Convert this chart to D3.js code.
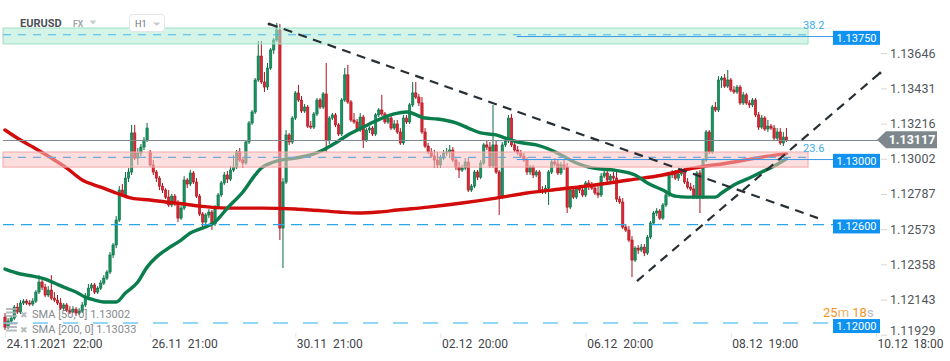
<!DOCTYPE html>
<html><head><meta charset="utf-8">
<script src="https://cdn.jsdelivr.net/npm/d3@7"></script>
<style>
html,body{margin:0;padding:0;background:#fff;}
svg{display:block;font-family:Roboto,"Noto Sans",Arial,sans-serif;}
</style></head><body>
<svg id="chart" width="950" height="361"></svg>
<script>
// ---------------- DATA ----------------
const symbol = "EURUSD";
const market = "FX";
const interval = "H1";
const xTickIdx = [0, 47, 94, 141, 188, 235, 282];
const xTickLabels = ["24.11.2021  22:00","26.11  21:00","30.11  21:00","02.12  20:00","06.12  20:00","08.12  19:00","10.12  18:00"];
const yTicks = [1.13646,1.13431,1.13216,1.13002,1.12787,1.12573,1.12358,1.12143,1.11929];

const opens = [
1.12036,1.11975,1.12012,1.12030,1.12097,1.12067,1.12122,1.12134,1.12122,1.12116,
1.12134,1.12189,1.12250,1.12219,1.12171,1.12201,1.12152,1.12140,1.12122,1.12091,
1.12110,1.12079,1.12067,1.12085,1.12061,1.12073,1.12110,1.12164,1.12213,1.12232,
1.12189,1.12213,1.12244,1.12274,1.12311,1.12415,1.12476,1.12628,1.12811,1.12781,
1.12884,1.12921,1.13159,1.13006,1.13037,1.13073,1.13116,1.13043,1.12964,1.12921,
1.12884,1.12835,1.12811,1.12768,1.12720,1.12774,1.12726,1.12640,1.12701,1.12872,
1.12848,1.12915,1.12860,1.12774,1.12665,1.12616,1.12659,1.12677,1.12604,1.12707,
1.12781,1.12854,1.12903,1.12878,1.12933,1.12951,1.13043,1.12994,1.12976,1.13104,
1.13220,1.13287,1.13482,1.13628,1.13470,1.13439,1.13555,1.13665,1.13726,1.13787,
1.12579,1.12860,1.13147,1.13104,1.13250,1.13403,1.13360,1.13293,1.13317,1.13201,
1.13195,1.13275,1.13360,1.13317,1.13397,1.13116,1.13250,1.13269,1.13208,1.13153,
1.13360,1.13513,1.13348,1.13238,1.13226,1.13177,1.13256,1.13116,1.13177,1.13189,
1.13153,1.13269,1.13299,1.13275,1.13226,1.13250,1.13189,1.13214,1.13165,1.13098,
1.13250,1.13226,1.13330,1.13403,1.13378,1.13342,1.13165,1.13079,1.13043,1.13018,
1.12994,1.12964,1.13006,1.13037,1.13043,1.13055,1.12994,1.12951,1.12933,1.12945,
1.12982,1.12811,1.12835,1.12921,1.12890,1.12976,1.13086,1.13073,1.12957,1.13086,
1.12921,1.12768,1.13086,1.13110,1.13250,1.13086,1.13055,1.13037,1.13018,1.12994,
1.12921,1.12951,1.12903,1.12921,1.12811,1.12799,1.12823,1.12921,1.12982,1.12970,
1.12915,1.12964,1.12951,1.12707,1.12811,1.12768,1.12823,1.12811,1.12781,1.12854,
1.12835,1.12823,1.12793,1.12781,1.12896,1.12915,1.12872,1.12896,1.12884,1.12756,
1.12738,1.12585,1.12567,1.12506,1.12384,1.12457,1.12445,1.12463,1.12427,1.12524,
1.12610,1.12671,1.12683,1.12640,1.12720,1.12781,1.12903,1.12915,1.12884,1.12909,
1.12927,1.12860,1.12829,1.12817,1.12768,1.12915,1.12768,1.12994,1.13165,1.13043,
1.13317,1.13299,1.13482,1.13494,1.13445,1.13482,1.13421,1.13409,1.13439,1.13342,
1.13391,1.13342,1.13330,1.13360,1.13269,1.13195,1.13250,1.13183,1.13201,1.13189,
1.13128,1.13165,1.13098,1.13134];

const highs = [
1.12061,1.12030,1.12042,1.12110,1.12122,1.12140,1.12146,1.12146,1.12140,1.12152,
1.12201,1.12292,1.12262,1.12238,1.12225,1.12292,1.12189,1.12171,1.12152,1.12122,
1.12122,1.12103,1.12103,1.12097,1.12091,1.12128,1.12183,1.12238,1.12244,1.12244,
1.12225,1.12262,1.12292,1.12323,1.12433,1.12488,1.12652,1.12835,1.12848,1.12921,
1.12945,1.13208,1.13208,1.13067,1.13092,1.13134,1.13220,1.13055,1.12994,1.12933,
1.12896,1.12854,1.12823,1.12811,1.12787,1.12787,1.12750,1.12720,1.12896,1.12884,
1.12933,1.12927,1.12884,1.12787,1.12677,1.12671,1.12695,1.12689,1.12720,1.12793,
1.12866,1.12921,1.12927,1.12957,1.13025,1.13055,1.13067,1.13012,1.13116,1.13232,
1.13299,1.13494,1.13720,1.13720,1.13531,1.13586,1.13677,1.13738,1.13830,1.13824,
1.12884,1.13177,1.13159,1.13262,1.13415,1.13452,1.13384,1.13336,1.13330,1.13232,
1.13287,1.13372,1.13372,1.13409,1.13586,1.13262,1.13281,1.13281,1.13220,1.13372,
1.13555,1.13574,1.13360,1.13281,1.13244,1.13281,1.13269,1.13189,1.13201,1.13201,
1.13281,1.13311,1.13391,1.13287,1.13262,1.13262,1.13238,1.13238,1.13189,1.13269,
1.13269,1.13342,1.13470,1.13470,1.13397,1.13378,1.13189,1.13098,1.13067,1.13055,
1.13043,1.13025,1.13055,1.13067,1.13086,1.13073,1.13006,1.12982,1.12964,1.13006,
1.13006,1.12848,1.12933,1.12933,1.12994,1.13098,1.13116,1.13104,1.13330,1.13116,
1.12933,1.13104,1.13128,1.13269,1.13275,1.13110,1.13079,1.13055,1.13037,1.13012,
1.12964,1.12964,1.12933,1.12933,1.12835,1.12842,1.12933,1.12994,1.13006,1.12994,
1.12982,1.12994,1.12976,1.12823,1.12823,1.12835,1.12842,1.12835,1.12866,1.12872,
1.12860,1.12848,1.12835,1.12915,1.12933,1.12927,1.12909,1.12921,1.12933,1.12774,
1.12762,1.12604,1.12591,1.12530,1.12469,1.12476,1.12482,1.12482,1.12537,1.12622,
1.12683,1.12701,1.12695,1.12732,1.12793,1.12915,1.12933,1.12933,1.12921,1.12945,
1.12945,1.12884,1.12854,1.12842,1.12927,1.12933,1.13006,1.13177,1.13177,1.13330,
1.13348,1.13506,1.13506,1.13519,1.13543,1.13494,1.13445,1.13452,1.13452,1.13409,
1.13403,1.13360,1.13372,1.13372,1.13287,1.13269,1.13262,1.13238,1.13214,1.13208,
1.13189,1.13189,1.13165,1.13189];

const lows = [
1.11957,1.11963,1.11994,1.12018,1.12055,1.12055,1.12110,1.12110,1.12103,1.12103,
1.12122,1.12177,1.12201,1.12158,1.12158,1.12140,1.12128,1.12110,1.12079,1.12079,
1.12067,1.12055,1.12061,1.12042,1.12049,1.12061,1.12097,1.12152,1.12195,1.12177,
1.12177,1.12201,1.12232,1.12262,1.12299,1.12396,1.12457,1.12616,1.12768,1.12762,
1.12860,1.12903,1.12994,1.12964,1.13018,1.13055,1.13104,1.12951,1.12903,1.12860,
1.12811,1.12793,1.12756,1.12707,1.12707,1.12713,1.12616,1.12628,1.12689,1.12823,
1.12835,1.12848,1.12762,1.12652,1.12579,1.12604,1.12640,1.12567,1.12591,1.12695,
1.12768,1.12842,1.12854,1.12866,1.12921,1.12939,1.12982,1.12945,1.12964,1.13092,
1.13208,1.13275,1.13470,1.13458,1.13409,1.13421,1.13543,1.13641,1.13714,1.12506,
1.12335,1.12848,1.13086,1.13092,1.13238,1.13348,1.13281,1.13281,1.13189,1.13183,
1.13183,1.13262,1.13305,1.13305,1.13043,1.13092,1.13238,1.13195,1.13140,1.13140,
1.13348,1.13336,1.13226,1.13214,1.13165,1.13165,1.13067,1.13104,1.13159,1.13140,
1.13140,1.13256,1.13262,1.13214,1.13214,1.13177,1.13177,1.13153,1.13086,1.13086,
1.13214,1.13214,1.13317,1.13366,1.13323,1.13153,1.13067,1.13031,1.13006,1.12945,
1.12945,1.12945,1.12994,1.13018,1.13006,1.12982,1.12933,1.12884,1.12921,1.12933,
1.12799,1.12799,1.12823,1.12872,1.12878,1.12964,1.13055,1.12945,1.12945,1.12909,
1.12659,1.12756,1.13073,1.13098,1.13073,1.13043,1.13025,1.13006,1.12982,1.12903,
1.12903,1.12884,1.12890,1.12799,1.12787,1.12787,1.12720,1.12909,1.12957,1.12903,
1.12903,1.12933,1.12671,1.12695,1.12756,1.12756,1.12793,1.12768,1.12768,1.12811,
1.12811,1.12781,1.12762,1.12768,1.12884,1.12860,1.12860,1.12866,1.12738,1.12726,
1.12573,1.12555,1.12494,1.12280,1.12372,1.12421,1.12433,1.12408,1.12415,1.12512,
1.12598,1.12652,1.12628,1.12628,1.12707,1.12768,1.12884,1.12872,1.12866,1.12896,
1.12848,1.12817,1.12805,1.12756,1.12756,1.12671,1.12756,1.12982,1.13031,1.13031,
1.13287,1.13287,1.13433,1.13433,1.13433,1.13409,1.13397,1.13397,1.13330,1.13330,
1.13330,1.13311,1.13317,1.13256,1.13177,1.13183,1.13171,1.13165,1.13177,1.13116,
1.13116,1.13086,1.13079,1.13104];

const closes = [
1.11975,1.12012,1.12030,1.12097,1.12067,1.12122,1.12134,1.12122,1.12116,1.12134,
1.12189,1.12250,1.12219,1.12171,1.12201,1.12152,1.12140,1.12122,1.12091,1.12110,
1.12079,1.12067,1.12085,1.12061,1.12073,1.12110,1.12164,1.12213,1.12232,1.12189,
1.12213,1.12244,1.12274,1.12311,1.12415,1.12476,1.12628,1.12811,1.12781,1.12884,
1.12921,1.13159,1.13006,1.13037,1.13073,1.13116,1.13189,1.12964,1.12921,1.12884,
1.12835,1.12811,1.12768,1.12720,1.12774,1.12726,1.12640,1.12701,1.12872,1.12848,
1.12915,1.12860,1.12774,1.12665,1.12616,1.12659,1.12677,1.12604,1.12707,1.12781,
1.12854,1.12903,1.12878,1.12933,1.12951,1.13043,1.12994,1.12976,1.13104,1.13220,
1.13287,1.13482,1.13628,1.13470,1.13439,1.13555,1.13665,1.13726,1.13787,1.12579,
1.12860,1.13147,1.13104,1.13250,1.13403,1.13360,1.13293,1.13317,1.13201,1.13195,
1.13275,1.13360,1.13317,1.13397,1.13116,1.13250,1.13269,1.13208,1.13153,1.13360,
1.13513,1.13348,1.13238,1.13226,1.13177,1.13256,1.13116,1.13177,1.13189,1.13153,
1.13269,1.13299,1.13275,1.13226,1.13250,1.13189,1.13214,1.13165,1.13098,1.13250,
1.13226,1.13330,1.13403,1.13378,1.13342,1.13165,1.13079,1.13043,1.13018,1.12994,
1.12964,1.13006,1.13037,1.13043,1.13055,1.12994,1.12951,1.12933,1.12945,1.12982,
1.12811,1.12835,1.12921,1.12890,1.12976,1.13086,1.13073,1.12957,1.13086,1.12921,
1.12768,1.13086,1.13110,1.13250,1.13086,1.13055,1.13037,1.13018,1.12994,1.12921,
1.12951,1.12903,1.12921,1.12811,1.12799,1.12823,1.12921,1.12982,1.12970,1.12915,
1.12964,1.12951,1.12707,1.12811,1.12768,1.12823,1.12811,1.12781,1.12854,1.12835,
1.12823,1.12793,1.12781,1.12896,1.12915,1.12872,1.12896,1.12884,1.12756,1.12738,
1.12585,1.12567,1.12506,1.12384,1.12457,1.12445,1.12463,1.12427,1.12524,1.12610,
1.12671,1.12683,1.12640,1.12720,1.12781,1.12903,1.12915,1.12884,1.12909,1.12927,
1.12860,1.12829,1.12817,1.12768,1.12915,1.12768,1.12994,1.13165,1.13043,1.13317,
1.13299,1.13482,1.13494,1.13445,1.13482,1.13421,1.13409,1.13439,1.13342,1.13391,
1.13342,1.13330,1.13360,1.13269,1.13195,1.13250,1.13183,1.13201,1.13189,1.13128,
1.13165,1.13098,1.13134,1.13117];

// SMA readings: candle index -> value
const sma50Idx = [0,5,9,13,16,19,23,26,29,32,36,39,43,46,49,52,57,60,63,68,72,77,81,83,87,94,99,103,107,111,116,120,126,130,136,140,146,150,154,159,162,166,172,176,180,185,189,193,197,204,208,213,217,221,228,230,232,236,241,245,249,253];
const sma50 = [1.12329,1.12299,1.12286,1.12268,1.12244,1.12219,1.12189,1.12158,1.12140,1.12128,1.12128,1.12183,1.12250,1.12341,1.12402,1.12445,1.12506,1.12549,1.12573,1.12616,1.12701,1.12799,1.12903,1.12945,1.12982,1.13006,1.13025,1.13055,1.13098,1.13147,1.13195,1.13232,1.13275,1.13287,1.13250,1.13244,1.13220,1.13189,1.13159,1.13147,1.13128,1.13104,1.13086,1.13061,1.13025,1.12976,1.12951,1.12939,1.12933,1.12903,1.12854,1.12811,1.12774,1.12768,1.12768,1.12768,1.12793,1.12842,1.12884,1.12921,1.12957,1.13002];
const sma200Idx = [0,5,9,15,20,25,31,36,41,47,52,58,63,72,83,94,99,108,114,121,127,137,148,159,169,180,191,202,213,223,234,245,253];
const sma200 = [1.13177,1.13116,1.13073,1.13006,1.12945,1.12872,1.12829,1.12793,1.12762,1.12750,1.12738,1.12726,1.12713,1.12701,1.12701,1.12695,1.12689,1.12677,1.12671,1.12677,1.12689,1.12707,1.12732,1.12762,1.12793,1.12817,1.12842,1.12872,1.12903,1.12945,1.12976,1.13012,1.13033];
const smaLabels = ["SMA [50, 0] 1.13002", "SMA [200, 0] 1.13033"];

// Zones (price bands) and fib levels
const zoneSpan = [-0.65, 260];
const greenZone = [1.13702, 1.13799];
const pinkZone = [1.12951, 1.13043];
const fibLabels = ["38.2", "23.6"];
const fibPrices = [1.13758, 1.13010];

// Horizontal price levels
const levelPrices = [1.13750, 1.13000, 1.12600, 1.12000];
const currentPrice = 1.13117;
const solidLevelStartIdx = 165.7;

// Trend lines: [startIdx, startPrice, endIdx, endPrice]
const trendDown = [85.5, 1.13824, 263.2, 1.12640];
const trendUp = [204.6, 1.12256, 283.3, 1.13525];

const timerParts = ["25", "m", " 18", "s"];

// ---------------- DRAWING ----------------
const svg = d3.select("#chart");
svg.append("rect").attr("width", 950).attr("height", 361).attr("fill", "#fff");

const x = d3.scaleLinear().domain([0, 282]).range([5, 876]);
const y = d3.scaleLinear().domain([1.11929, 1.13646]).range([334.7, 53.1]);

const candles = closes.map((c, i) => ({i, o: opens[i], h: highs[i], l: lows[i], c}));
const upFill = "#15955f", upLine = "#0b6a42", dnFill = "#de2733", dnLine = "#a7131d";
const bw = 2.3;

const gC = svg.append("g");
gC.selectAll("line").data(candles).join("line")
  .attr("x1", d => x(d.i)).attr("x2", d => x(d.i))
  .attr("y1", d => y(d.h)).attr("y2", d => y(d.l))
  .attr("stroke", d => d.c >= d.o ? upLine : dnLine).attr("stroke-width", 1);
gC.selectAll("rect").data(candles).join("rect")
  .attr("x", d => x(d.i) - bw / 2).attr("width", bw)
  .attr("y", d => y(Math.max(d.o, d.c)))
  .attr("height", d => Math.max(1, Math.abs(y(d.o) - y(d.c))))
  .attr("fill", d => d.c >= d.o ? upFill : dnFill)
  .attr("stroke", d => d.c >= d.o ? upLine : dnLine).attr("stroke-width", 0.6);

// SMA lines
const smaLine = d3.line().x(d => x(d[0])).y(d => y(d[1])).curve(d3.curveMonotoneX);
svg.append("path").datum(sma200Idx.map((k, j) => [k, sma200[j]]))
  .attr("d", smaLine).attr("fill", "none").attr("stroke", "#d20b0b")
  .attr("stroke-width", 3.4).attr("stroke-linecap", "round").attr("stroke-linejoin", "round");
svg.append("path").datum(sma50Idx.map((k, j) => [k, sma50[j]]))
  .attr("d", smaLine).attr("fill", "none").attr("stroke", "#0a7d4d")
  .attr("stroke-width", 3.4).attr("stroke-linecap", "round").attr("stroke-linejoin", "round");

// Zones (semi-transparent, over candles)
function zone(band, fill, stroke) {
  svg.append("rect")
    .attr("x", x(zoneSpan[0])).attr("width", x(zoneSpan[1]) - x(zoneSpan[0]))
    .attr("y", y(band[1])).attr("height", y(band[0]) - y(band[1]))
    .attr("fill", fill).attr("stroke", stroke).attr("stroke-width", 1);
}
zone(greenZone, "rgba(175,235,211,0.55)", "#9fdfc4");
zone(pinkZone, "rgba(250,195,195,0.55)", "#f4a7a7");

// Fib dashed lines + labels
const fibColors = ["#4db6e6", "#74a9d8"];
fibPrices.forEach((p, k) => {
  svg.append("line").attr("x1", x(zoneSpan[0])).attr("x2", x(zoneSpan[1]))
    .attr("y1", y(p)).attr("y2", y(p))
    .attr("stroke", fibColors[k]).attr("stroke-width", 1.2).attr("stroke-dasharray", "8,7");
  svg.append("text").attr("x", 803).attr("y", y(p) - 5.5).text(fibLabels[k])
    .attr("font-size", 11).attr("fill", "#3aaef0");
});

const tagX = 833, tagW = 47;
// Solid level segments (1.13750, 1.13000)
[0, 1].forEach(k => {
  svg.append("line").attr("x1", x(solidLevelStartIdx)).attr("x2", tagX)
    .attr("y1", y(levelPrices[k]) + 0.5).attr("y2", y(levelPrices[k]) + 0.5)
    .attr("stroke", "#3d98e6").attr("stroke-width", 1);
});
// Dashed levels (1.12600, 1.12000)
svg.append("line").attr("x1", x(zoneSpan[0])).attr("x2", tagX)
  .attr("y1", y(levelPrices[2])).attr("y2", y(levelPrices[2]))
  .attr("stroke", "#2aa5ea").attr("stroke-width", 1.3).attr("stroke-dasharray", "11,7");
svg.append("line").attr("x1", x(zoneSpan[0])).attr("x2", tagX)
  .attr("y1", y(levelPrices[3])).attr("y2", y(levelPrices[3]))
  .attr("stroke", "#6fcaf3").attr("stroke-width", 1.4).attr("stroke-dasharray", "15,15");

// Current price line
svg.append("line").attr("x1", x(zoneSpan[0])).attr("x2", 878)
  .attr("y1", Math.round(y(currentPrice)) + 0.5).attr("y2", Math.round(y(currentPrice)) + 0.5)
  .attr("stroke", "#7f898e").attr("stroke-width", 1);

// Trend lines
function trend(t) {
  svg.append("line").attr("x1", x(t[0])).attr("y1", y(t[1])).attr("x2", x(t[2])).attr("y2", y(t[3]))
    .attr("stroke", "#283036").attr("stroke-width", 2.2).attr("stroke-dasharray", "9,6.5");
}
trend(trendDown);
trend(trendUp);
svg.append("circle").attr("cx", x(trendDown[0])).attr("cy", y(trendDown[1])).attr("r", 1.5).attr("fill", "#283036");
svg.append("circle").attr("cx", x(trendUp[2])).attr("cy", y(trendUp[3])).attr("r", 1.5).attr("fill", "#283036");

// Level tags
levelPrices.forEach((p, k) => {
  const cy = y(p) + (k === 3 ? 3 : 1.8);
  svg.append("rect").attr("x", tagX).attr("y", cy - 7).attr("width", tagW).attr("height", 14)
    .attr("fill", "#0f92f0");
  svg.append("text").attr("x", tagX + tagW / 2).attr("y", cy + 4).attr("text-anchor", "middle")
    .attr("font-size", 11).attr("fill", "#fff").text(d3.format(".5f")(p));
});

// Y axis
const gy = svg.append("g").attr("transform", "translate(881,0)")
  .call(d3.axisRight(y).tickValues(yTicks).tickFormat(d3.format(".5f")).tickSize(6).tickPadding(3));
gy.select(".domain").remove();
gy.selectAll(".tick line").attr("stroke", "#d3d6d9");
gy.selectAll(".tick text").attr("fill", "#50565b").attr("font-size", 12.5).attr("font-family", "Roboto, sans-serif");
gy.selectAll(".tick").filter(d => d === yTicks[yTicks.length - 1]).select("text").attr("dy", "0");

// Current price tag
const cpy = y(currentPrice);
svg.append("path")
  .attr("d", `M877,${cpy} L886,${cpy - 8.5} L937,${cpy - 8.5} L937,${cpy + 8.5} L886,${cpy + 8.5} Z`)
  .attr("fill", "#7d878c");
svg.append("text").attr("x", 912).attr("y", cpy + 4.5).attr("text-anchor", "middle")
  .attr("font-size", 12.5).attr("font-weight", 700).attr("fill", "#fff").text(d3.format(".5f")(currentPrice));

// X axis
const gx = svg.append("g").attr("transform", "translate(0,333)")
  .call(d3.axisBottom(x).tickValues(xTickIdx).tickFormat((d, i) => xTickLabels[i]).tickSize(5).tickPadding(1));
gx.select(".domain").remove();
gx.selectAll(".tick line").attr("stroke", "#e3e5e7");
gx.selectAll(".tick text").attr("text-anchor", "start").attr("x", 1)
  .attr("fill", "#3f4448").attr("font-size", 12).attr("font-family", "Roboto, sans-serif")
  .style("white-space", "pre");

// Timer (sits just above the 1.12000 tag)
const tm = svg.append("text").attr("x", 823).attr("y", 316.5).attr("font-size", 13);
const tmColors = ["#f7941d", "#efb36c", "#f7941d", "#bcbcbc"];
timerParts.forEach((t, k) => tm.append("tspan").text(t).attr("fill", tmColors[k]).style("white-space", "pre"));

// Header
svg.append("text").attr("x", 20).attr("y", 26.7).text(symbol)
  .attr("font-size", 11).attr("font-weight", 700).attr("fill", "#4b5157");
svg.append("text").attr("x", 73).attr("y", 26.7).text(market)
  .attr("font-size", 8.5).attr("font-weight", 700).attr("fill", "#a0a7ab");
svg.append("path").attr("d", "M89.5,20.5 L96.5,20.5 L93,24.5 Z").attr("fill", "#c8cdd0");
svg.append("rect").attr("x", 129.5).attr("y", 14.5).attr("width", 35).attr("height", 17).attr("rx", 3)
  .attr("fill", "#fff").attr("stroke", "#e4e7e9");
svg.append("text").attr("x", 135).attr("y", 26.7).text(interval)
  .attr("font-size", 9).attr("fill", "#6c7378");
svg.append("path").attr("d", "M153,22.5 L160.5,22.5 L156.75,26 Z").attr("fill", "#c8cdd0");

// Legend
smaLabels.forEach((lbl, k) => {
  const by = 318 + k * 14.5;
  const g = svg.append("g").attr("opacity", 0.85);
  [0, 3.5, 7].forEach(dy => g.append("rect").attr("x", 6).attr("y", by - 10 + dy).attr("width", 11).attr("height", 2).attr("fill", "#aab0b4"));
  g.append("text").attr("x", 20).attr("y", by).text("✖").attr("font-size", 9).attr("fill", "#aab0b4");
  g.append("text").attr("x", 32).attr("y", by).text(lbl).attr("font-size", 11).attr("fill", "#6f767b")
    .style("white-space", "pre");
});
</script>
</body></html>
